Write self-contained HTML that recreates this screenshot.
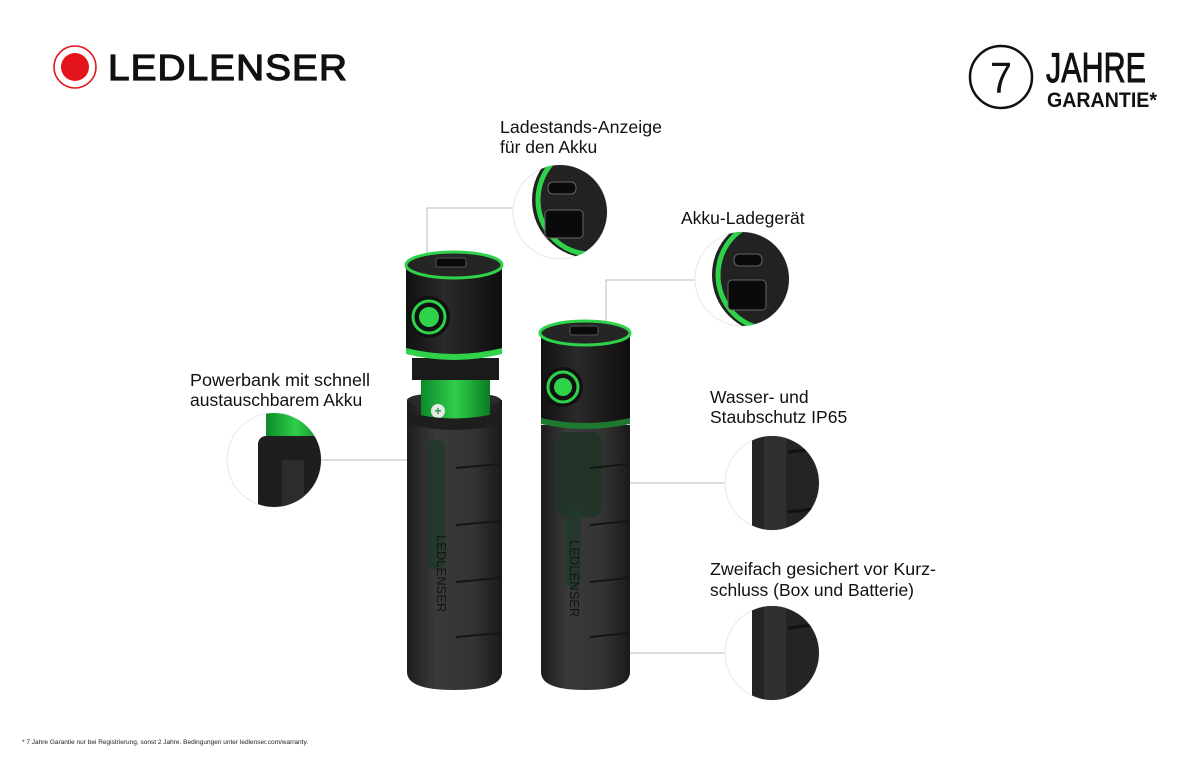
<!DOCTYPE html>
<html><head><meta charset="utf-8"><style>
html,body{margin:0;padding:0;background:#fff;}
svg{display:block}
text{font-family:"Liberation Sans",sans-serif;}
</style></head><body>
<svg width="1200" height="768" viewBox="0 0 1200 768" xmlns="http://www.w3.org/2000/svg">
<defs>
<linearGradient id="tube" x1="0" x2="1" y1="0" y2="0">
<stop offset="0" stop-color="#1c1c1c"/><stop offset="0.3" stop-color="#3a3a3a"/><stop offset="0.7" stop-color="#333"/><stop offset="1" stop-color="#1a1a1a"/></linearGradient>
<linearGradient id="cap" x1="0" x2="1"><stop offset="0" stop-color="#111"/><stop offset="0.4" stop-color="#2a2a2a"/><stop offset="1" stop-color="#0e0e0e"/></linearGradient>
<linearGradient id="bat" x1="0" x2="1"><stop offset="0" stop-color="#0d8a2a"/><stop offset="0.5" stop-color="#2fcf4a"/><stop offset="1" stop-color="#0b7a24"/></linearGradient>
<clipPath id="c1"><circle cx="560" cy="212" r="47"/></clipPath>
<clipPath id="c2"><circle cx="742" cy="279" r="47"/></clipPath>
<clipPath id="c3"><circle cx="274" cy="460" r="47"/></clipPath>
<clipPath id="c4"><circle cx="772" cy="483" r="47"/></clipPath>
<clipPath id="c5"><circle cx="772" cy="653" r="47"/></clipPath>
</defs>

<!-- logo -->
<circle cx="75" cy="67" r="21" fill="none" stroke="#e3141b" stroke-width="1.6"/>
<circle cx="75" cy="67" r="14" fill="#e3141b"/>
<text x="108" y="80" font-size="36" fill="#111" stroke="#111" stroke-width="1.2" letter-spacing="1" textLength="240" lengthAdjust="spacingAndGlyphs">LEDLENSER</text>

<!-- 7 Jahre -->
<circle cx="1001" cy="77" r="31" fill="none" stroke="#111" stroke-width="2.5"/>
<text x="1001" y="93" font-size="44" text-anchor="middle" fill="#111" textLength="22" lengthAdjust="spacingAndGlyphs">7</text>
<text x="1046" y="82" font-size="42" fill="#111" stroke="#111" stroke-width="1" textLength="100" lengthAdjust="spacingAndGlyphs">JAHRE</text>
<text x="1047" y="107" font-size="21" font-weight="bold" fill="#111" textLength="110" lengthAdjust="spacingAndGlyphs">GARANTIE*</text>

<!-- labels -->
<g font-size="17.5" fill="#111">
<text x="500" y="133" textLength="162" lengthAdjust="spacingAndGlyphs">Ladestands-Anzeige</text>
<text x="500" y="153">für den Akku</text>
<text x="681" y="224">Akku-Ladegerät</text>
<text x="190" y="386" textLength="180" lengthAdjust="spacingAndGlyphs">Powerbank mit schnell</text>
<text x="190" y="406">austauschbarem Akku</text>
<text x="710" y="403">Wasser- und</text>
<text x="710" y="423">Staubschutz IP65</text>
<text x="710" y="575" textLength="226" lengthAdjust="spacingAndGlyphs">Zweifach gesichert vor Kurz-</text>
<text x="710" y="596" textLength="204" lengthAdjust="spacingAndGlyphs">schluss (Box und Batterie)</text>
</g>
<text x="22" y="744" font-size="6.5" fill="#222">* 7 Jahre Garantie nur bei Registrierung, sonst 2 Jahre. Bedingungen unter ledlenser.com/warranty.</text>

<!-- connectors -->
<g stroke="#bbb" stroke-width="1" fill="none">
<polyline points="427,262 427,208 513,208"/>
<polyline points="606,325 606,280 695,280"/>
<line x1="321" y1="460" x2="407" y2="460"/>
<line x1="630" y1="483" x2="725" y2="483"/>
<line x1="630" y1="653" x2="725" y2="653"/>
</g>

<!-- detail circles -->
<g>
<circle cx="560" cy="212" r="47" fill="#fff" stroke="#e8e8e8"/>
<g clip-path="url(#c1)">
<ellipse cx="590" cy="200" rx="58" ry="58" fill="#222"/>
<ellipse cx="590" cy="200" rx="52" ry="54" fill="none" stroke="#2fd34a" stroke-width="5"/>
<rect x="548" y="182" width="28" height="12" rx="5" fill="#0a0a0a" stroke="#666"/>
<rect x="545" y="210" width="38" height="28" rx="4" fill="#0a0a0a" stroke="#666"/>
</g>
<circle cx="742" cy="279" r="47" fill="#fff" stroke="#e8e8e8"/>
<g clip-path="url(#c2)">
<ellipse cx="770" cy="275" rx="58" ry="58" fill="#222"/>
<ellipse cx="770" cy="275" rx="52" ry="54" fill="none" stroke="#2fd34a" stroke-width="5"/>
<rect x="734" y="254" width="28" height="12" rx="5" fill="#0a0a0a" stroke="#666"/>
<rect x="728" y="280" width="38" height="30" rx="4" fill="#0a0a0a" stroke="#666"/>
</g>
<circle cx="274" cy="460" r="47" fill="#fff" stroke="#e8e8e8"/>
<g clip-path="url(#c3)">
<rect x="266" y="405" width="60" height="60" rx="10" fill="url(#bat)"/>
<circle cx="281" cy="443" r="6" fill="#e8e8e8"/><text x="281" y="447" font-size="11" font-weight="bold" fill="#1a9a36" text-anchor="middle">+</text>
<rect x="258" y="436" width="80" height="80" rx="8" fill="#1e1e1e"/>
<rect x="282" y="460" width="22" height="60" fill="#2c2c2c"/>
</g>
<circle cx="772" cy="483" r="47" fill="#fff" stroke="#e8e8e8"/>
<g clip-path="url(#c4)">
<rect x="752" y="430" width="90" height="110" fill="#242424"/>
<rect x="764" y="430" width="22" height="110" fill="#303030"/>
<line x1="788" y1="452" x2="840" y2="446" stroke="#111" stroke-width="3"/>
<line x1="788" y1="512" x2="840" y2="506" stroke="#111" stroke-width="3"/>
</g>
<circle cx="772" cy="653" r="47" fill="#fff" stroke="#e8e8e8"/>
<g clip-path="url(#c5)">
<rect x="752" y="600" width="90" height="110" fill="#242424"/>
<rect x="764" y="600" width="22" height="110" fill="#303030"/>
<line x1="788" y1="628" x2="840" y2="622" stroke="#111" stroke-width="3"/>
</g>
</g>

<!-- left device -->
<g>
<path d="M407 400 L502 400 L502 672 Q502 690 454 690 Q407 690 407 672 Z" fill="url(#tube)"/>
<ellipse cx="454" cy="400" rx="47" ry="8" fill="#2a2a2a"/>
<rect x="421" y="375" width="69" height="48" rx="6" fill="url(#bat)"/>
<circle cx="438" cy="411" r="7" fill="#e8e8e8"/><text x="438" y="415" font-size="12" font-weight="bold" fill="#1a9a36" text-anchor="middle">+</text>
<path d="M407 412 Q454 425 502 412 L502 424 Q454 436 407 424 Z" fill="#1e1e1e"/>
<rect x="427" y="440" width="18" height="130" rx="8" fill="#1f3a28" opacity="0.8"/>
<g stroke="#151515" stroke-width="2"><line x1="456" y1="468" x2="500" y2="464"/><line x1="456" y1="525" x2="500" y2="521"/><line x1="456" y1="582" x2="500" y2="578"/><line x1="456" y1="637" x2="500" y2="633"/></g>
<text transform="translate(437,535) rotate(90)" font-size="13" fill="#151515">LEDLENSER</text>
<rect x="412" y="358" width="87" height="22" fill="#1a1a1a"/>
<path d="M406 265 L502 265 L502 350 Q454 362 406 350 Z" fill="url(#cap)"/>
<path d="M406 348 Q454 360 502 348 L502 354 Q454 366 406 354 Z" fill="#2fd34a"/>
<ellipse cx="454" cy="265" rx="48" ry="13" fill="#252525" stroke="#2fd34a" stroke-width="3"/>
<rect x="436" y="258" width="30" height="9" rx="2" fill="#0a0a0a" stroke="#555"/>
<circle cx="429" cy="317" r="21" fill="#111"/>
<circle cx="429" cy="317" r="16" fill="none" stroke="#2fd34a" stroke-width="3"/>
<circle cx="429" cy="317" r="10" fill="#2fd34a"/>
</g>

<!-- right device -->
<g>
<path d="M541 425 L630 425 L630 672 Q630 690 585 690 Q541 690 541 672 Z" fill="url(#tube)"/>
<rect x="557" y="432" width="45" height="85" rx="10" fill="#1e3326" opacity="0.8"/>
<rect x="565" y="508" width="16" height="80" rx="8" fill="#1f3a28" opacity="0.8"/>
<g stroke="#151515" stroke-width="2"><line x1="590" y1="468" x2="628" y2="464"/><line x1="590" y1="525" x2="628" y2="521"/><line x1="590" y1="582" x2="628" y2="578"/><line x1="590" y1="637" x2="628" y2="633"/></g>
<text transform="translate(570,540) rotate(90)" font-size="13" fill="#151515">LEDLENSER</text>
<path d="M541 333 L630 333 L630 420 Q585 430 541 420 Z" fill="url(#cap)"/>
<path d="M541 418 Q585 428 630 418 L630 424 Q585 434 541 424 Z" fill="#1d7a30"/>
<ellipse cx="585" cy="333" rx="45" ry="12" fill="#252525" stroke="#2fd34a" stroke-width="3"/>
<rect x="570" y="326" width="28" height="9" rx="2" fill="#0a0a0a" stroke="#555"/>
<circle cx="563" cy="387" r="20" fill="#111"/>
<circle cx="563" cy="387" r="15" fill="none" stroke="#2fd34a" stroke-width="3"/>
<circle cx="563" cy="387" r="9" fill="#2fd34a"/>
</g>
</svg>
</body></html>
